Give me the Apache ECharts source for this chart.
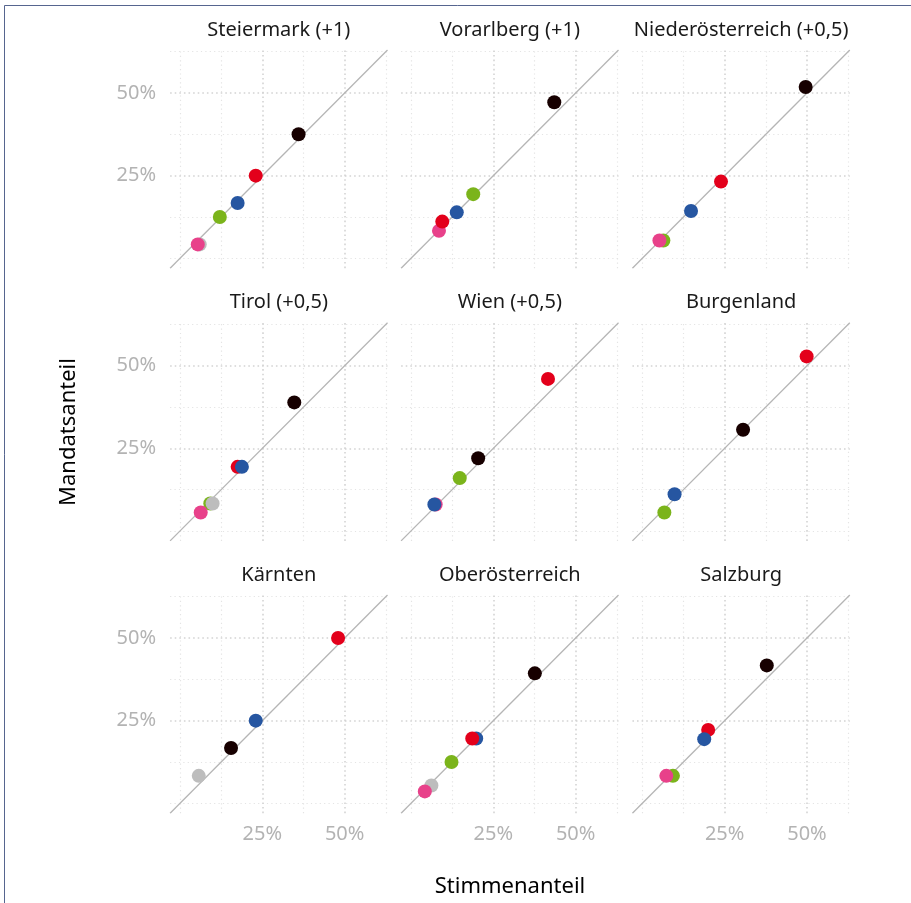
<!DOCTYPE html>
<html>
<head>
<meta charset="utf-8">
<script src="https://cdn.jsdelivr.net/npm/echarts@6/dist/echarts.min.js"></script>
<style>
html,body{margin:0;padding:0;background:#fff;}
#chart{width:911px;height:903px;}
</style>
</head>
<body>
<div id="chart"></div>
<script>
// ---- data ----
const regions = ['Steiermark (+1)','Vorarlberg (+1)','Niederösterreich (+0,5)','Tirol (+0,5)','Wien (+0,5)','Burgenland','Kärnten','Oberösterreich','Salzburg'];
const partyColors = {OEVP:'#170000', SPOE:'#e3001b', FPOE:'#2656a1', GRUENE:'#7bb41b', NEOS:'#e8418a', SONST:'#bdbdbd'};
// [party, Stimmenanteil %, Mandatsanteil %] in drawing order
const steiermark = [['SONST',6.0,4.2],['NEOS',5.4,4.2],['GRUENE',12.1,12.5],['FPOE',17.5,16.7],['SPOE',23.0,25.0],['OEVP',36.0,37.5]];
const vorarlberg = [['NEOS',8.5,8.3],['SPOE',9.5,11.1],['FPOE',13.9,13.9],['GRUENE',18.9,19.4],['OEVP',43.5,47.2]];
const niederoesterreich = [['GRUENE',6.4,5.4],['NEOS',5.2,5.4],['FPOE',14.8,14.3],['SPOE',23.9,23.2],['OEVP',49.6,51.8]];
const tirol = [['SPOE',17.5,19.4],['FPOE',18.8,19.4],['GRUENE',9.2,8.3],['SONST',9.9,8.3],['NEOS',6.3,5.6],['OEVP',34.7,38.9]];
const wien = [['NEOS',7.5,8.0],['FPOE',7.1,8.0],['GRUENE',14.8,16.0],['OEVP',20.4,22.0],['SPOE',41.6,46.0]];
const burgenland = [['GRUENE',6.7,5.6],['FPOE',9.8,11.1],['OEVP',30.6,30.6],['SPOE',49.9,52.8]];
const kaernten = [['SONST',5.7,8.3],['OEVP',15.5,16.7],['FPOE',23.0,25.0],['SPOE',48.0,50.0]];
const oberoesterreich = [['SONST',6.2,5.4],['NEOS',4.2,3.6],['GRUENE',12.3,12.5],['FPOE',19.8,19.6],['SPOE',18.6,19.6],['OEVP',37.6,39.3]];
const salzburg = [['GRUENE',9.3,8.3],['NEOS',7.3,8.3],['SPOE',20.0,22.2],['FPOE',18.8,19.4],['OEVP',37.8,41.7]];
const panels = [steiermark, vorarlberg, niederoesterreich, tirol, wien, burgenland, kaernten, oberoesterreich, salzburg];
const tickLabels = [25, 50];
const majorGrid = [25, 50];
const minorGrid = [0, 12.5, 37.5, 62.5];
const AX_MIN = -3, AX_MAX = 63;
const xTitle = 'Stimmenanteil', yTitle = 'Mandatsanteil';

// ---- layout ----
const colLeft = [170.1, 401.1, 632.4], panelW = 217.4;
const rowTop = [50, 322.7, 595], panelH = 218.2;
const FONT = '"Noto Sans", "Open Sans", sans-serif';

const chart = echarts.init(document.getElementById('chart'), null, {renderer:'canvas'});
const grid = [], xAxis = [], yAxis = [], series = [], graphic = [];

graphic.push({type:'line', shape:{x1:4.5,y1:5.5,x2:911,y2:5.5}, style:{stroke:'#56658f', lineWidth:1}, silent:true});
graphic.push({type:'line', shape:{x1:4.5,y1:5.5,x2:4.5,y2:903}, style:{stroke:'#56658f', lineWidth:1}, silent:true});

panels.forEach((pd, i) => {
  const r = Math.floor(i / 3), c = i % 3;
  grid.push({left:colLeft[c], top:rowTop[r], width:panelW, height:panelH, outerBoundsMode:'none', containLabel:false});
  const lblStyle = {color:'#b3b3b3', fontSize:20, fontFamily:FONT, customValues:tickLabels, formatter: v => v + '%'};
  xAxis.push({type:'value', gridIndex:i, min:AX_MIN, max:AX_MAX,
    axisLine:{show:false}, axisTick:{show:false}, splitLine:{show:false},
    axisLabel:Object.assign({show: r === 2, margin:11}, lblStyle)});
  yAxis.push({type:'value', gridIndex:i, min:AX_MIN, max:AX_MAX,
    axisLine:{show:false}, axisTick:{show:false}, splitLine:{show:false},
    axisLabel:Object.assign({show: c === 0, margin:14}, lblStyle)});
  const gl = [];
  minorGrid.forEach(v => {
    gl.push({xAxis:v, lineStyle:{color:'#e4e4e4', width:1.2, type:[1.2,3.2]}});
    gl.push({yAxis:v, lineStyle:{color:'#e4e4e4', width:1.2, type:[1.2,3.2]}});
  });
  majorGrid.forEach(v => {
    gl.push({xAxis:v, lineStyle:{color:'#d4d4d4', width:1.6, type:[1.6,3]}});
    gl.push({yAxis:v, lineStyle:{color:'#d4d4d4', width:1.6, type:[1.6,3]}});
  });
  series.push({type:'line', xAxisIndex:i, yAxisIndex:i, data:[[AX_MIN,AX_MIN],[AX_MAX,AX_MAX]],
    showSymbol:false, symbol:'none', silent:true, z:2,
    lineStyle:{color:'#b5b5b5', width:1.3},
    markLine:{silent:true, symbol:'none', label:{show:false}, animation:false, z:1, data:gl}});
  series.push({type:'scatter', xAxisIndex:i, yAxisIndex:i, symbolSize:14, z:3,
    data: pd.map(d => ({value:[d[1], d[2]], itemStyle:{color:partyColors[d[0]], opacity:1}}))});
  graphic.push({type:'text', x:colLeft[c] + panelW/2, y:rowTop[r] - 20, silent:true,
    style:{text:regions[i], fill:'#1a1a1a', font:'20px ' + FONT, textAlign:'center', textVerticalAlign:'middle'}});
});

graphic.push({type:'text', x:510, y:887, silent:true,
  style:{text:xTitle, fill:'#000', font:'22px ' + FONT, textAlign:'center', textVerticalAlign:'middle'}});
graphic.push({type:'text', x:69, y:432, rotation:Math.PI/2, silent:true,
  style:{text:yTitle, fill:'#000', font:'22px ' + FONT, textAlign:'center', textVerticalAlign:'middle'}});

chart.setOption({animation:false, grid, xAxis, yAxis, series, graphic});
</script>
</body>
</html>
